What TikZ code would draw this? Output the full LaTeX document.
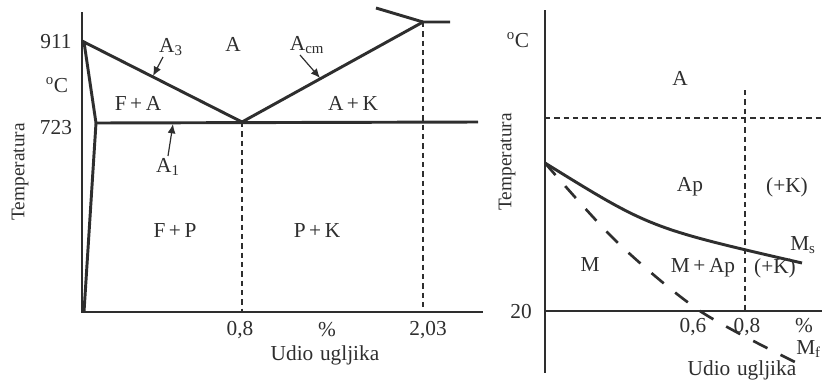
\documentclass[tikz,border=0pt]{standalone}
\usepackage{fontspec}
\setmainfont{Liberation Serif}
\usetikzlibrary{arrows.meta,calc}
\definecolor{ink}{HTML}{2E2E2E}

\begin{document}
\begin{tikzpicture}[
  x=0.75pt,y=-0.75pt,
  every node/.style={font=\fontsize{16}{18}\selectfont,text=ink,inner sep=0pt},
  axis/.style={draw=ink,line width=1.1pt},
  phase/.style={draw=ink,line width=2.2pt},
  guide/.style={draw=ink,line width=0.8pt,dash pattern=on 4pt off 3pt},
  mfline/.style={draw=ink,line width=2pt,dash pattern=on 12pt off 11pt},
  pointer/.style={-{Latex[length=7pt,width=6pt]},draw=ink,line width=0.9pt},
  ylab/.style={rotate=90,font=\fontsize{14.5}{16}\selectfont}
]
\useasboundingbox (0,0) rectangle (826,383);

% left: Fe-C steel corner
\coordinate (o1) at (82,312);
\coordinate (p911) at (84,42);
\coordinate (p723) at (96,123);
\coordinate (eut) at (242,122);
\coordinate (ecm) at (423,22);
\draw[axis] (82,12) -- (o1) -- (483,312);
\draw[guide] (eut) -- (eut|-o1);
\draw[guide] (ecm) -- (ecm|-o1);
\draw[phase] (84,312) -- (p723) -- (p911) -- (eut) -- (ecm) -- (450,22);
\draw[phase] (376,8) -- (ecm);
\draw[phase] (p723) -- (478,122);

\node (t911) at (56,42) {911};
\node (deg1) at (57,85) {\textsuperscript{o}C};
\node (t723) at (56,128) {723};
\node[ylab] (temp1) at (20,172) {Temperatura};
\node (lA3) at (171,47) {A\textsubscript{3}};
\node (lA) at (233,44) {A};
\node (lAcm) at (307,45) {A\textsubscript{cm}};
\node (lFA) at (138,103) {F\,+\,A};
\node (lAK) at (353,103) {A\,+\,K};
\node (lA1) at (168,167) {A\textsubscript{1}};
\node (lFP) at (175,231) {F\,+\,P};
\node (lPK) at (317,231) {P\,+\,K};
\node (x08) at (240,330) {0,8};
\node (pc1) at (327,330) {\%};
\node (x203) at (428,330) {2,03};
\node (udio1) at (325,355) {Udio\hspace{5pt}ugljika};
\draw[pointer] (163,57) -- (153,76);
\draw[pointer] (300,55) -- (320,78);
\draw[pointer] (168,156) -- (173,124);

% right: martensite start / finish
\coordinate (o2) at (545,311);
\coordinate (ms0) at (545,163);
\coordinate (c08) at (745,90);
\draw[axis] (545,10) -- (545,373);
\draw[axis] (o2) -- (822,311);
\draw[guide] (545,118) -- (822,118);
\draw[guide] (c08) -- (c08|-o2);
\draw[phase] (ms0) .. controls (650,228) .. (802,263);
\draw[mfline] plot[smooth] coordinates {(ms0) (617,242) (700,311) (795,362)};

\node (deg2) at (518,40) {\textsuperscript{o}C};
\node[ylab] (temp2) at (507,162) {Temperatura};
\node (rA) at (680,78) {A};
\node (rAp) at (690,187) {Ap};
\node (rK1) at (787,187) {(+K)};
\node (rM) at (590,265) {M};
\node (rMAp) at (703,268) {M\,+\,Ap};
\node (rK2) at (775,268) {(+K)};
\node[anchor=west] (lMs) at (790,245) {M\textsubscript{s}};
\node[anchor=west] (lMf) at (796,349) {M\textsubscript{f}};
\node (t20) at (521,312) {20};
\node (x06) at (693,327) {0,6};
\node (x08r) at (747,327) {0,8};
\node (pc2) at (804,326) {\%};
\node (udio2) at (742,370) {Udio\hspace{5pt}ugljika};
\end{tikzpicture}
\end{document}
